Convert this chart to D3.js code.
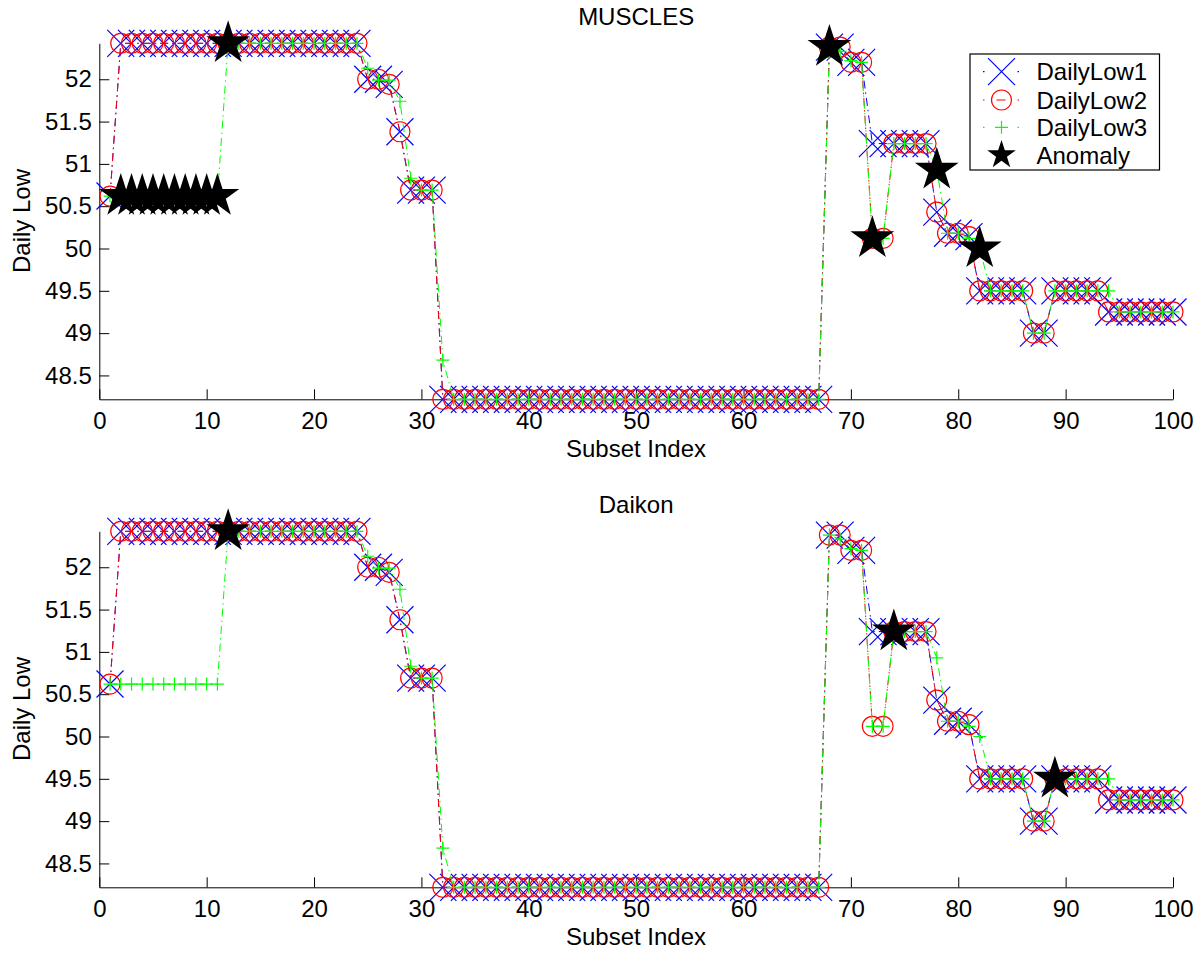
<!DOCTYPE html>
<html>
<head>
<meta charset="utf-8">
<script src="https://cdn.jsdelivr.net/npm/d3@7"></script>
<style>
  body { margin: 0; background: #fff; }
  text { font-family: "Liberation Sans", Arial, Helvetica, sans-serif; fill: #000; }
</style>
</head>
<body>
<div id="display"></div>
<script>
// subset index 1..100
const subsetIndex = d3.range(1, 101);

const dailyLow1 = [
  50.62,
  52.425, 52.425, 52.425, 52.425, 52.425, 52.425, 52.425, 52.425, 52.425, 52.425,
  52.425, 52.425, 52.425, 52.425, 52.425, 52.425, 52.425, 52.425, 52.425, 52.425,
  52.425, 52.425, 52.425,
  52.0, 52.0, 51.94, 51.38, 50.69, 50.69, 50.69,
  48.218, 48.218, 48.218, 48.218, 48.218, 48.218, 48.218, 48.218, 48.218, 48.218,
  48.218, 48.218, 48.218, 48.218, 48.218, 48.218, 48.218, 48.218, 48.218, 48.218,
  48.218, 48.218, 48.218, 48.218, 48.218, 48.218, 48.218, 48.218, 48.218, 48.218,
  48.218, 48.218, 48.218, 48.218, 48.218, 48.218,
  52.38, 52.38, 52.2, 52.2,
  51.24, 51.24, 51.24, 51.24, 51.24, 51.24,
  50.43, 50.18, 50.18, 50.14,
  49.5, 49.5, 49.5, 49.5, 49.5,
  49.0, 49.0,
  49.5, 49.5, 49.5, 49.5, 49.5,
  49.25, 49.25, 49.25, 49.25, 49.25, 49.25, 49.25
];

const dailyLow2 = [
  50.62,
  52.425, 52.425, 52.425, 52.425, 52.425, 52.425, 52.425, 52.425, 52.425, 52.425,
  52.425, 52.425, 52.425, 52.425, 52.425, 52.425, 52.425, 52.425, 52.425, 52.425,
  52.425, 52.425, 52.425,
  52.0, 52.0, 51.94, 51.38, 50.69, 50.69, 50.69,
  48.218, 48.218, 48.218, 48.218, 48.218, 48.218, 48.218, 48.218, 48.218, 48.218,
  48.218, 48.218, 48.218, 48.218, 48.218, 48.218, 48.218, 48.218, 48.218, 48.218,
  48.218, 48.218, 48.218, 48.218, 48.218, 48.218, 48.218, 48.218, 48.218, 48.218,
  48.218, 48.218, 48.218, 48.218, 48.218, 48.218,
  52.38, 52.38, 52.2, 52.2,
  50.12, 50.12, 51.24, 51.24, 51.24, 51.24,
  50.43, 50.18, 50.18, 50.14,
  49.5, 49.5, 49.5, 49.5, 49.5,
  49.0, 49.0,
  49.5, 49.5, 49.5, 49.5, 49.5,
  49.25, 49.25, 49.25, 49.25, 49.25, 49.25, 49.25
];

const dailyLow3 = [
  50.62, 50.62, 50.62, 50.62, 50.62, 50.62, 50.62, 50.62, 50.62, 50.62, 50.62,
  52.425, 52.425, 52.425, 52.425, 52.425, 52.425, 52.425, 52.425, 52.425, 52.425,
  52.425, 52.425, 52.425,
  52.13, 51.99, 51.99, 51.74, 50.83, 50.69, 50.69, 48.68,
  48.218, 48.218, 48.218, 48.218, 48.218, 48.218, 48.218, 48.218, 48.218, 48.218,
  48.218, 48.218, 48.218, 48.218, 48.218, 48.218, 48.218, 48.218, 48.218, 48.218,
  48.218, 48.218, 48.218, 48.218, 48.218, 48.218, 48.218, 48.218, 48.218, 48.218,
  48.218, 48.218, 48.218, 48.218, 48.218,
  52.38, 52.33, 52.22, 52.2,
  50.12, 50.12,
  51.24, 51.24, 51.24, 51.24,
  50.93, 50.18, 50.18, 50.12, 50.0,
  49.5, 49.5, 49.5, 49.5,
  49.0, 49.0,
  49.5, 49.5, 49.5, 49.5, 49.5, 49.5,
  49.25, 49.25, 49.25, 49.25, 49.25, 49.25
];

// anomaly positions (subset index), values taken from DailyLow3
const anomaliesMuscles = [2, 3, 4, 5, 6, 7, 8, 9, 10, 11, 12, 68, 72, 78, 82];
const anomaliesDaikon = [12, 74, 89];

const xTicks = [0, 10, 20, 30, 40, 50, 60, 70, 80, 90, 100];
const yTicks = [48.5, 49, 49.5, 50, 50.5, 51, 51.5, 52];
const seriesNames = ["DailyLow1", "DailyLow2", "DailyLow3", "Anomaly"];

const svg = d3.select('#display')
  .append('svg')
  .attr('width', 1204)
  .attr('height', 954);

const fontSize = 24;
const dash = "8,4,1.5,4";

function crossPath(s) { return `M${-s},${-s}L${s},${s}M${-s},${s}L${s},${-s}`; }
function plusPath(s) { return `M${-s},0L${s},0M0,${-s}L0,${s}`; }
function starPath(R) {
  const r = R * 0.382;
  let p = "";
  for (let i = 0; i < 10; i++) {
    const a = -Math.PI / 2 + i * Math.PI / 5;
    const rr = i % 2 === 0 ? R : r;
    p += (i === 0 ? "M" : "L") + (rr * Math.cos(a)).toFixed(2) + "," + (rr * Math.sin(a)).toFixed(2);
  }
  return p + "Z";
}

const seriesStyle = [
  { values: dailyLow1, color: "#0000ff", marker: "x" },
  { values: dailyLow2, color: "#ff0000", marker: "o" },
  { values: dailyLow3, color: "#00ff00", marker: "+" }
];

function drawMarker(g, type, color) {
  if (type === "x") {
    g.append("path").attr("d", crossPath(13.5)).attr("stroke", color).attr("stroke-width", 1.2).attr("fill", "none");
  } else if (type === "o") {
    g.append("circle").attr("r", 10).attr("stroke", color).attr("stroke-width", 1.2).attr("fill", "none");
  } else if (type === "+") {
    g.append("path").attr("d", plusPath(6.5)).attr("stroke", color).attr("stroke-width", 1.2).attr("fill", "none");
  } else {
    g.append("path").attr("d", starPath(23)).attr("fill", "#000");
  }
}

function drawPanel(top, title, anomalies, withLegend) {
  const g = svg.append('g').attr('transform', `translate(0, ${top})`);
  const x = d3.scaleLinear().domain([0, 100]).range([99.3, 1173]);
  const y = d3.scaleLinear().domain([48.218, 52.425]).range([399.3, 43.3]);

  const xAxis = g.append('g')
    .attr('transform', `translate(0, ${y.range()[0]})`)
    .call(d3.axisBottom(x).tickValues(xTicks).tickSizeInner(-10).tickSizeOuter(0)
      .tickPadding(13).tickFormat(d => d));
  const yAxis = g.append('g')
    .attr('transform', `translate(${x.range()[0]}, 0)`)
    .call(d3.axisLeft(y).tickValues(yTicks).tickSizeInner(-10).tickSizeOuter(0)
      .tickPadding(7.5).tickFormat(d => d));
  [xAxis, yAxis].forEach(a => {
    a.selectAll('text').attr('font-size', fontSize).attr('font-family', null);
    a.selectAll('line, path').attr('stroke', '#000').attr('stroke-width', 1);
  });

  g.append('text')
    .attr('x', (x.range()[0] + x.range()[1]) / 2)
    .attr('y', 24.5)
    .attr('text-anchor', 'middle')
    .attr('font-size', fontSize)
    .text(title);
  g.append('text')
    .attr('x', 636)
    .attr('y', 457)
    .attr('text-anchor', 'middle')
    .attr('font-size', fontSize)
    .text('Subset Index');
  g.append('text')
    .attr('transform', `translate(29.5, 221) rotate(-90)`)
    .attr('text-anchor', 'middle')
    .attr('font-size', fontSize)
    .text('Daily Low');

  const line = d3.line().x((d, i) => x(subsetIndex[i])).y(d => y(d));

  seriesStyle.forEach(s => {
    g.append('path')
      .datum(s.values)
      .attr('d', line)
      .attr('fill', 'none')
      .attr('stroke', s.color)
      .attr('stroke-width', 1)
      .attr('stroke-dasharray', dash);
    s.values.forEach((v, i) => {
      const m = g.append('g').attr('transform', `translate(${x(subsetIndex[i])}, ${y(v)})`);
      drawMarker(m, s.marker, s.color);
    });
  });

  anomalies.forEach(idx => {
    const m = g.append('g').attr('transform', `translate(${x(idx)}, ${y(dailyLow3[idx - 1])})`);
    drawMarker(m, "star", "#000");
  });

  if (withLegend) {
    const lg = g.append('g');
    lg.append('rect')
      .attr('x', 970).attr('y', 54).attr('width', 189.5).attr('height', 116)
      .attr('fill', '#fff').attr('stroke', '#000').attr('stroke-width', 1.2);
    const rowsY = [71.7, 100, 127.3, 155];
    const markers = ["x", "o", "+", "star"];
    const colors = ["#0000ff", "#ff0000", "#00ff00", "#000"];
    const legendDash = ["1.5,33,1.5", "1.5,12,9,12,1.5", "1.5,33,1.5"];
    seriesNames.forEach((name, i) => {
      if (i < 3) {
        lg.append('path')
          .attr('d', `M983,${rowsY[i]}L1019,${rowsY[i]}`)
          .attr('stroke', colors[i]).attr('stroke-width', 1.2)
          .attr('stroke-dasharray', legendDash[i]);
      }
      const m = lg.append('g').attr('transform', `translate(1001.5, ${rowsY[i]})`);
      if (i === 3) {
        m.append("path").attr("d", starPath(15)).attr("fill", "#000");
      } else {
        drawMarker(m, markers[i], colors[i]);
      }
      lg.append('text')
        .attr('x', 1036.5)
        .attr('y', rowsY[i] + 8.5)
        .attr('font-size', fontSize)
        .text(name);
    });
  }
}

drawPanel(0, "MUSCLES", anomaliesMuscles, true);
drawPanel(488, "Daikon", anomaliesDaikon, false);
</script>
</body>
</html>
